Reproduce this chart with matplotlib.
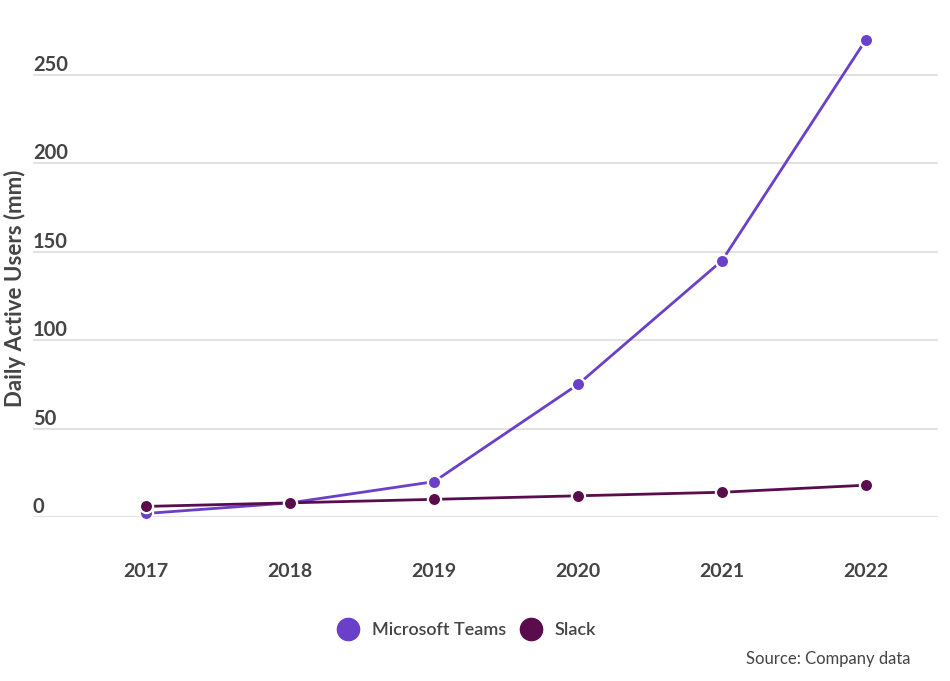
import matplotlib.pyplot as plt
import matplotlib.transforms as mtransforms
from matplotlib.lines import Line2D

years = [2017, 2018, 2019, 2020, 2021, 2022]
teams_dau = [2, 8, 20, 75, 145, 270]
slack_dau = [6, 8, 10, 12, 14, 18]
y_ticks = [0, 50, 100, 150, 200, 250]

TEAMS_COLOR = "#6a3fc9"
SLACK_COLOR = "#5a0c4c"
TEXT_COLOR = "#444444"

plt.rcParams["font.family"] = ["Lato", "DejaVu Sans"]

fig = plt.figure(figsize=(9.5, 6.81), dpi=100)
ax = fig.add_axes([0.0347, 0.2408, 0.9526, 0.7269])

for vals, color, label in [(teams_dau, TEAMS_COLOR, "Microsoft Teams"),
                           (slack_dau, SLACK_COLOR, "Slack")]:
    ax.plot(years, vals, color=color, lw=2.0, marker="o", markersize=9.5,
            markeredgecolor="white", markeredgewidth=1.6, label=label,
            clip_on=False, zorder=3)

ax.set_xlim(2016.215, 2022.5)
ax.set_ylim(0, 280)

ax.set_yticks(y_ticks)
ax.set_yticklabels([])
ax.tick_params(axis="y", length=0)
ax.grid(axis="y", color="#dddddd", lw=1.2)
ax.set_axisbelow(True)

# y labels sit on top of their gridlines at the left edge
trans = mtransforms.blended_transform_factory(ax.transAxes, ax.transData)
for v in y_ticks:
    ax.text(0.0, v, str(v), transform=trans, ha="left", va="bottom",
            fontsize=14.5, fontweight="bold", color=TEXT_COLOR)

ax.set_xticks(years)
ax.set_xticklabels([str(y) for y in years], fontsize=14, fontweight="bold",
                   color=TEXT_COLOR)
ax.tick_params(axis="x", length=0, pad=33)

for spine in ax.spines.values():
    spine.set_visible(False)

fig.text(0.016, 1 - 288 / 681, "Daily Active Users (mm)", rotation=90,
         ha="center", va="center", fontsize=16, fontweight="bold",
         color=TEXT_COLOR)

handles = [
    Line2D([], [], ls="none", marker="o", markersize=16, color=TEAMS_COLOR),
    Line2D([], [], ls="none", marker="o", markersize=16, color=SLACK_COLOR),
]
fig.legend(handles=handles, labels=["Microsoft Teams", "Slack"],
           loc="center", bbox_to_anchor=(467 / 950, 1 - 630 / 681), ncol=2,
           frameon=False, prop={"size": 13, "weight": "semibold"},
           labelcolor=TEXT_COLOR, handletextpad=0.7, columnspacing=0.8,
           handlelength=1.2)

fig.text(910 / 950, 1 - 659 / 681, "Source: Company data", ha="right",
         va="center", fontsize=12, color=TEXT_COLOR)

fig.savefig("out.png", dpi=100)
